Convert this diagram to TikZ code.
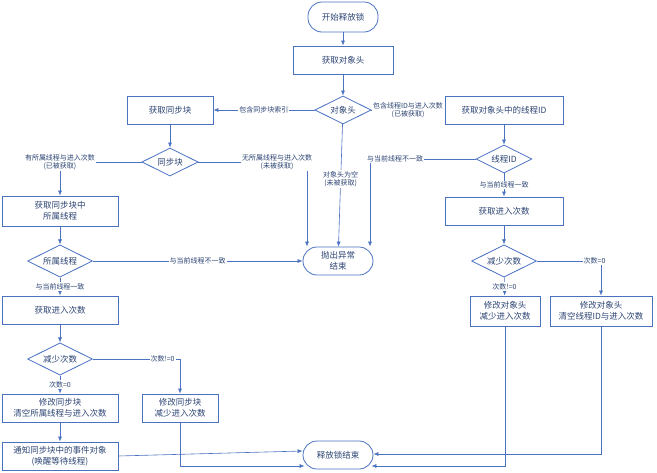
\documentclass[tikz,border=0pt]{standalone}
\usepackage{fontspec}
\setmainfont{Noto Sans CJK SC}
\usetikzlibrary{shapes.geometric,arrows.meta}
\definecolor{flowblue}{HTML}{4A72C0}
\begin{document}
\begin{tikzpicture}[x=1pt,y=-1pt,
	box/.style={rectangle, draw=flowblue, thick, minimum height=28pt, align=center,
		font=\fontsize{8.5}{11}\selectfont, text=flowblue!60!black},
	term/.style={rectangle, rounded corners=14pt, draw=flowblue, thick, minimum width=70pt,
		minimum height=28pt, align=center, font=\fontsize{8.5}{11}\selectfont, text=flowblue!60!black},
	dia/.style={diamond, draw=flowblue, thick, aspect=2, inner sep=2.5pt,
		font=\fontsize{8.5}{11}\selectfont, text=flowblue!60!black},
	lbl/.style={fill=white, inner sep=1pt, align=center, font=\fontsize{7}{8.5}\selectfont, text=flowblue!60!black},
	line/.style={draw=flowblue, semithick, -{Latex[length=5pt,width=4pt]}}]
	\useasboundingbox (0,0) rectangle (657,472);
	% object header path
	\node[term, minimum height=30pt] (start) at (343,17) {开始释放锁};
	\node[box, minimum width=100pt] (gethead) at (343,60) {获取对象头};
	\node[dia] (headdia) at (343,110) {对象头};
	\node[term, text width=50pt] (throw) at (338,261) {抛出异常\\结束};
	\node[term, minimum width=70pt] (release) at (338,455) {释放锁结束};
	% synchronized block path
	\node[box, minimum width=86pt] (getsync) at (170,110) {获取同步块};
	\node[dia] (syncdia) at (170,162) {同步块};
	\node[box, minimum width=116pt, minimum height=30pt] (getowner) at (60,211) {获取同步块中\\所属线程};
	\node[dia] (ownerdia) at (60,261) {所属线程};
	\node[box, minimum width=116pt] (getcnt1) at (60,310) {获取进入次数};
	\node[dia] (dec1) at (60,359) {减少次数};
	\node[box, minimum width=116pt] (modsync1) at (60,408) {修改同步块\\清空所属线程与进入次数};
	\node[box, minimum width=116pt] (notify) at (60,456) {通知同步块中的事件对象\\(唤醒等待线程)};
	\node[box, minimum width=76pt] (modsync2) at (180,408) {修改同步块\\减少进入次数};
	% thread id path
	\node[box, minimum width=118pt] (getthrid) at (504,110) {获取对象头中的线程ID};
	\node[dia] (thrdia) at (504,159) {线程ID};
	\node[box, minimum width=118pt] (getcnt2) at (504,211) {获取进入次数};
	\node[dia] (dec2) at (504,261) {减少次数};
	\node[box, minimum width=70pt, minimum height=30pt] (modhead1) at (505,311) {修改对象头\\减少进入次数};
	\node[box, minimum width=102pt, minimum height=30pt] (modhead2) at (601,311) {修改对象头\\清空线程ID与进入次数};

	\draw[line] (start) -- (gethead);
	\draw[line] (gethead) -- (headdia);
	\draw[line] (headdia) -- node[lbl] {包含同步块索引} (getsync);
	\draw[line] (headdia) -- node[lbl] {包含线程ID与进入次数\\(已被获取)} (getthrid);
	\draw[line] (headdia) -- node[lbl, pos=0.45] {对象头为空\\(未被获取)} (throw);
	\draw[line] (getsync) -- (syncdia);
	\draw[line] (syncdia.west) -| node[lbl, pos=0.5] {有所属线程与进入次数\\(已被获取)} (getowner.north);
	\draw[line] (syncdia.east) -| node[lbl, pos=0.5, xshift=-30pt] {无所属线程与进入次数\\(未被获取)} ([xshift=-31pt]throw.north);
	\draw[line] (thrdia.west) -| node[lbl, pos=0.5, xshift=25pt] {与当前线程不一致} ([xshift=32pt]throw.north);
	\draw[line] (getowner) -- (ownerdia);
	\draw[line] (ownerdia) -- node[lbl] {与当前线程不一致} (throw);
	\draw[line] (ownerdia) -- node[lbl] {与当前线程一致} (getcnt1);
	\draw[line] (getcnt1) -- (dec1);
	\draw[line] (dec1) -- node[lbl] {次数=0} (modsync1);
	\draw[line] (dec1.east) -| node[lbl, pos=0.4] {次数!=0} (modsync2.north);
	\draw[line] (modsync1) -- (notify);
	\draw[line] (notify.east) -- ([yshift=4pt]release.west);
	\draw[line] (modsync2.south) |- ([xshift=2pt,yshift=-11pt]release.west);
	\draw[line] (getthrid) -- (thrdia);
	\draw[line] (thrdia) -- node[lbl] {与当前线程一致} (getcnt2);
	\draw[line] (getcnt2) -- (dec2);
	\draw[line] (dec2) -- node[lbl] {次数!=0} (modhead1);
	\draw[line] (dec2.east) -| node[lbl, pos=0.45] {次数=0} (modhead2.north);
	\draw[line] (modhead1.south) |- ([xshift=-2pt,yshift=-11pt]release.east);
	\draw[line] (modhead2.south) |- ([yshift=1pt]release.east);
\end{tikzpicture}
\end{document}
